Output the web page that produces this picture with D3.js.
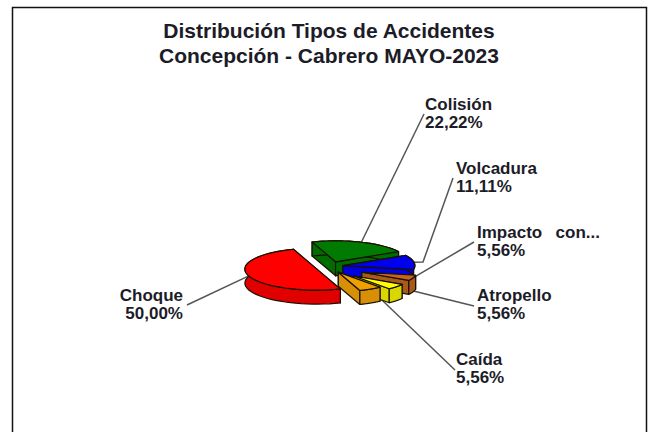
<!DOCTYPE html>
<html>
<head>
<meta charset="utf-8">
<script src="https://cdn.jsdelivr.net/npm/d3@7"></script>
<style>
    html, body { margin: 0; padding: 0; background: #fff; }
    svg { display: block; }
    text { font-family: "Liberation Sans", Arial, sans-serif; font-weight: bold; fill: #1c1c28; }
</style>
</head>
<body>
<div id="chart"></div>
<script>
const titleLines = ["Distribución Tipos de Accidentes", "Concepción - Cabrero MAYO-2023"];
const categories = ["Choque", "Colisión", "Volcadura", "Impacto  con...", "Atropello", "Caída"];
const values = [50.00, 22.22, 11.11, 5.56, 5.56, 5.56];
const valueLabels = ["50,00%", "22,22%", "11,11%", "5,56%", "5,56%", "5,56%"];

const topColors = ["#ff0000", "#007a00", "#0000f0", "#c8641e", "#ffff00", "#eea000"];
const sideColors = ["#e00000", "#006c00", "#0000e0", "#a85a1c", "#d8d800", "#d88f08"];

const width = 653;
const height = 432;

const svg = d3.select("#chart")
    .append("svg")
    .attr("width", width)
    .attr("height", height);

// frame runs off the bottom of the picture
svg.append("rect")
    .attr("x", 12.5)
    .attr("y", 7.5)
    .attr("width", 634)
    .attr("height", 440)
    .attr("fill", "#fff")
    .attr("stroke", "#111")
    .attr("stroke-width", 1.5);

svg.selectAll(".title")
    .data(titleLines)
    .enter().append("text")
    .attr("class", "title")
    .attr("x", 329)
    .attr("y", (d, i) => 38 + i * 24.5)
    .attr("text-anchor", "middle")
    .style("font-size", "21px")
    .text(d => d);

// fake 3d pie
const cx = 332;
const cy = 266.5;
const rx = 72;
const ry = 21;
const depth = 14;
const explodeTilt = 0.5;
const explode = [16, 10, 11, 32, 29, 13];
const shrink = [1, 1, 1, 0.76, 0.78, 0.92]; // small slices are drawn shorter

const slices = d3.pie()
    .sort(null)
    .startAngle(161 * Math.PI / 180)
    .endAngle((161 + 360) * Math.PI / 180)(values);

slices.forEach((s, i) => {
    const mid = (s.startAngle + s.endAngle) / 2;
    s.ax = cx + explode[i] * Math.sin(mid);
    s.ay = cy - explode[i] * Math.cos(mid) * explodeTilt;
    s.mid = mid;
    s.k = shrink[i];
});

const rim = (s, a, dz = 0) => [s.ax + s.k * rx * Math.sin(a), s.ay - s.k * ry * Math.cos(a) + dz];
const rimPoints = (s, a0, a1, dz = 0) => d3.range(0, 41).map(k => rim(s, a0 + (a1 - a0) * k / 40, dz));
const line = d3.line();

const labelPos = [[183, 301], [425, 110], [456, 174], [477, 238], [477, 301], [456, 365]];
const leaderEnds = [[187, 305], [424, 114], [453, 178], [474, 242], [474, 306], [455, 370]];
const elbows = [null, null, [423, 262], null, null, null];

svg.append("g").selectAll("path")
    .data(slices)
    .enter().append("path")
    .attr("d", (s, i) => {
        const pts = [rim(s, s.mid)];
        if (elbows[i]) pts.push(elbows[i]);
        pts.push(leaderEnds[i]);
        return line(pts);
    })
    .attr("fill", "none")
    .attr("stroke", "#555")
    .attr("stroke-width", 1.5);

// back to front
const drawOrder = [1, 2, 3, 4, 5, 0];
const pie = svg.append("g")
    .attr("stroke", "#1a1000")
    .attr("stroke-width", 1.2)
    .attr("stroke-linejoin", "round");

drawOrder.forEach(i => {
    const s = slices[i];
    const g = pie.append("g");
    const apex = [s.ax, s.ay];
    const apexLow = [s.ax, s.ay + depth];

    [s.startAngle, s.endAngle].forEach(a => {
        g.append("path")
            .attr("d", line([apex, rim(s, a), rim(s, a, depth), apexLow]) + "Z")
            .attr("fill", sideColors[i]);
    });

    // outer wall
    g.append("path")
        .attr("d", line(rimPoints(s, s.startAngle, s.endAngle).concat(rimPoints(s, s.endAngle, s.startAngle, depth))) + "Z")
        .attr("fill", sideColors[i]);

    g.append("path")
        .attr("d", line([apex].concat(rimPoints(s, s.startAngle, s.endAngle))) + "Z")
        .attr("fill", topColors[i]);
});

// labels
const labels = svg.append("g").selectAll("text")
    .data(categories)
    .enter().append("text")
    .attr("text-anchor", (d, i) => i === 0 ? "end" : "start")
    .style("font-size", "17px")
    .style("word-spacing", "2px")
    .style("white-space", "pre")
    .attr("xml:space", "preserve");

labels.append("tspan")
    .attr("x", (d, i) => labelPos[i][0])
    .attr("y", (d, i) => labelPos[i][1])
    .text(d => d);

labels.append("tspan")
    .attr("x", (d, i) => labelPos[i][0])
    .attr("y", (d, i) => labelPos[i][1] + 18)
    .text((d, i) => valueLabels[i]);
</script>
</body>
</html>
